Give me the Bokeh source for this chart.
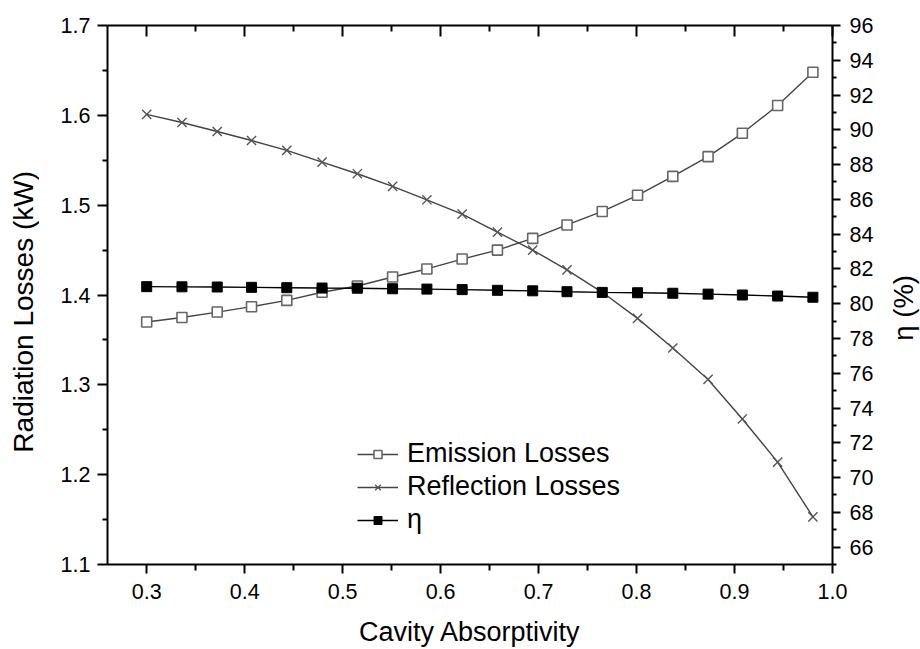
from bokeh.plotting import figure
from bokeh.layouts import row
from bokeh.models import (LinearAxis, Range1d, FixedTicker, PrintfTickFormatter,
                          Legend, LegendItem, Div)
from bokeh.embed import file_html
from bokeh.resources import INLINE

# ---------------- data ----------------
absorptivity = [0.300, 0.336, 0.372, 0.407, 0.443, 0.479, 0.515, 0.551, 0.586, 0.622,
                0.658, 0.694, 0.729, 0.765, 0.801, 0.837, 0.873, 0.908, 0.944, 0.980]
emission_losses = [1.370, 1.375, 1.381, 1.387, 1.394, 1.403, 1.410, 1.420, 1.429, 1.440,
                   1.450, 1.463, 1.478, 1.493, 1.511, 1.532, 1.554, 1.580, 1.611, 1.648]
reflection_losses = [1.601, 1.592, 1.582, 1.572, 1.561, 1.548, 1.535, 1.521, 1.506, 1.490,
                     1.470, 1.450, 1.428, 1.403, 1.374, 1.341, 1.306, 1.262, 1.214, 1.153]
eta_percent = [80.98, 80.97, 80.96, 80.94, 80.92, 80.90, 80.89, 80.86, 80.84, 80.81,
               80.77, 80.74, 80.69, 80.65, 80.63, 80.60, 80.55, 80.50, 80.44, 80.37]

x_ticks = [0.3, 0.4, 0.5, 0.6, 0.7, 0.8, 0.9, 1.0]
x_minor_ticks = [0.35, 0.45, 0.55, 0.65, 0.75, 0.85, 0.95]
left_ticks = [1.1, 1.2, 1.3, 1.4, 1.5, 1.6, 1.7]
left_minor_ticks = [1.15, 1.25, 1.35, 1.45, 1.55, 1.65]
right_ticks = [66, 68, 70, 72, 74, 76, 78, 80, 82, 84, 86, 88, 90, 92, 94, 96]
right_minor_ticks = [65, 67, 69, 71, 73, 75, 77, 79, 81, 83, 85, 87, 89, 91, 93, 95]

x_label = "Cavity Absorptivity"
left_label = "Radiation Losses (kW)"
right_label = "η (%)"
series_labels = ["Emission Losses", "Reflection Losses", "η"]

# ---------------- styles ----------------
FONT = "Liberation Sans"
TICK_SIZE = "21.5px"
TITLE_SIZE = "27px"
TOTAL_W, TOTAL_H = 920, 649
LEFT_W, RIGHT_W = 48, 32
PLOT_W = TOTAL_W - LEFT_W - RIGHT_W


def vertical_title(text, width, shift_up, size):
    html = ('<div style="width:%dpx;height:%dpx;display:flex;align-items:center;'
            'justify-content:center;box-sizing:border-box;padding-bottom:%dpx;">'
            '<span style="writing-mode:vertical-rl;transform:rotate(180deg);'
            'font-family:\'%s\';font-size:%s;color:black;white-space:nowrap;'
            'line-height:1;">%s</span></div>') % (width, TOTAL_H, 2 * shift_up,
                                                   FONT, size, text)
    return Div(text=html, width=width, height=TOTAL_H, margin=0)


p = figure(width=PLOT_W, height=TOTAL_H, output_backend="svg", toolbar_location=None,
           x_range=Range1d(0.26, 1.0), y_range=Range1d(1.1, 1.7),
           min_border_left=107 - LEFT_W, min_border_right=TOTAL_W - 832 - RIGHT_W,
           min_border_top=25, min_border_bottom=84, margin=0)
p.extra_y_ranges = {"eta": Range1d(65, 96)}
p.xgrid.visible = False
p.ygrid.visible = False
p.outline_line_color = None
p.background_fill_color = "white"
p.border_fill_color = "white"


def style_axis(ax, tick_in, tick_out, minor_in, minor_out):
    ax.axis_line_width = 2
    ax.axis_line_color = "black"
    ax.major_tick_line_width = 2
    ax.minor_tick_line_width = 2
    ax.major_tick_line_color = "black"
    ax.minor_tick_line_color = "black"
    ax.major_tick_in = tick_in
    ax.major_tick_out = tick_out
    ax.minor_tick_in = minor_in
    ax.minor_tick_out = minor_out
    ax.major_label_text_font = FONT
    ax.major_label_text_font_size = TICK_SIZE
    ax.major_label_text_color = "black"
    ax.axis_label_text_font = FONT
    ax.axis_label_text_font_size = TITLE_SIZE
    ax.axis_label_text_font_style = "normal"
    ax.axis_label_text_color = "black"


xa = p.xaxis[0]
xa.ticker = FixedTicker(ticks=x_ticks, minor_ticks=x_minor_ticks)
xa.formatter = PrintfTickFormatter(format="%.1f")
xa.axis_label = x_label
style_axis(xa, 0, 9, 0, 6)
xa.major_label_standoff = 10
xa.axis_label_standoff = 15

ya = p.yaxis[0]
ya.ticker = FixedTicker(ticks=left_ticks, minor_ticks=left_minor_ticks)
ya.formatter = PrintfTickFormatter(format="%.1f")
style_axis(ya, 0, 10, 0, 5)
ya.major_label_standoff = 7

ra = LinearAxis(y_range_name="eta",
                ticker=FixedTicker(ticks=right_ticks, minor_ticks=right_minor_ticks),
                formatter=PrintfTickFormatter(format="%d"))
style_axis(ra, 0, 8, 0, 4)
ra.major_label_standoff = 9
p.add_layout(ra, "right")

ta = LinearAxis(ticker=FixedTicker(ticks=x_ticks, minor_ticks=x_minor_ticks),
                formatter=PrintfTickFormatter(format="%.1f"))
style_axis(ta, 11, 0, 6, 0)
ta.major_label_text_font_size = "1px"
ta.major_label_text_color = None
ta.major_label_standoff = 0
p.add_layout(ta, "above")

# ---------------- series ----------------
e_line = p.line(absorptivity, emission_losses, line_color="#444444", line_width=1.4)
e_mark = p.scatter(absorptivity, emission_losses, marker="square", size=10,
                   fill_color="white", line_color="#666666", line_width=1.6)
r_line = p.line(absorptivity, reflection_losses, line_color="#444444", line_width=1.4)
r_mark = p.scatter(absorptivity, reflection_losses, marker="x", size=13,
                   line_color="#555555", line_width=1.4)
h_line = p.line(absorptivity, eta_percent, y_range_name="eta",
                line_color="black", line_width=1.4)
h_mark = p.scatter(absorptivity, eta_percent, y_range_name="eta", marker="square",
                   size=10, fill_color="black", line_color="black", line_width=1)

legend = Legend(items=[LegendItem(label=series_labels[0], renderers=[e_line, e_mark]),
                       LegendItem(label=series_labels[1], renderers=[r_line, r_mark]),
                       LegendItem(label=series_labels[2], renderers=[h_line, h_mark])],
                location=(250, 29), border_line_color=None, background_fill_alpha=0,
                label_text_font=FONT, label_text_font_size="27px",
                label_text_color="black", glyph_width=41, glyph_height=20,
                label_standoff=9, spacing=2, padding=0, margin=0)
p.add_layout(legend)

left_div = vertical_title(left_label, LEFT_W, 13, "28px")
right_div = vertical_title(right_label, RIGHT_W, 17, "27.5px")

layout = row(left_div, p, right_div, spacing=0, margin=0)

open("out.html", "w").write(file_html(layout, INLINE))
